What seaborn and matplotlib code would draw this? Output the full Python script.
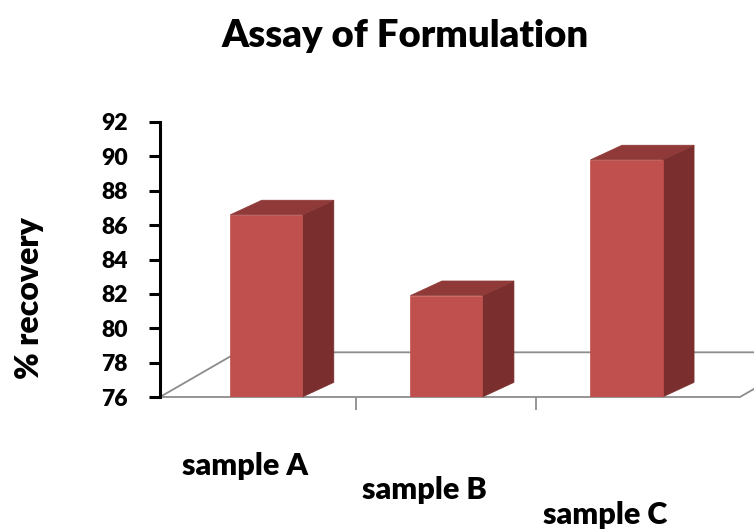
import matplotlib
matplotlib.use("Agg")
import matplotlib.pyplot as plt
from matplotlib.patches import Polygon
import matplotlib.transforms as mtransforms
import seaborn as sns
import pandas as pd

# ---- data ----
categories = ["sample A", "sample B", "sample C"]
recovery = [86.6, 81.9, 89.8]
yticks = [76, 78, 80, 82, 84, 86, 88, 90, 92]
title = "Assay of Formulation"
ylabel = "% recovery"

FRONT = "#C0504D"
TOP = "#8F3A38"
SIDE = "#7A2F2E"
FLOOR = "#8C8C8C"
WEIGHT = "heavy"

sns.set_theme(style="white")
plt.rcParams["font.family"] = ["Lato", "DejaVu Sans"]
plt.rcParams["font.weight"] = WEIGHT
plt.rcParams["text.color"] = "black"
plt.rcParams["ytick.labelcolor"] = "black"

fig = plt.figure(figsize=(7.54, 5.29), dpi=100)
W, H = 754, 529
ax = fig.add_axes([160 / W, (H - 397) / H, 580 / W, 275 / H])

df = pd.DataFrame({"sample": categories, "recovery": recovery})
sns.barplot(data=df, x="sample", y="recovery", color=FRONT, saturation=1,
            width=0.4, ax=ax, zorder=3)

ax.set_ylim(yticks[0], yticks[-1])
ax.set_xlim(-0.59, 2.63)
ybot = ax.get_ylim()[0]

# pseudo-3D depth (data units)
dx, dy = 0.175, 0.85
fdx, fdy = 0.43, 2.6

# floor
x0f, x1f = ax.get_xlim()
floor = [(x0f, ybot), (x1f, ybot), (x1f + fdx, ybot + fdy), (x0f + fdx, ybot + fdy)]
ax.add_patch(Polygon(floor, closed=True, fill=False, edgecolor=FLOOR,
                     linewidth=1.3, clip_on=False, zorder=1))

for p in list(ax.patches):
    if isinstance(p, Polygon):
        continue
    x0 = p.get_x()
    w = p.get_width()
    h = p.get_height()
    p.set_edgecolor(FRONT)
    p.set_linewidth(0.5)
    side = [(x0 + w, ybot), (x0 + w + dx, ybot + dy), (x0 + w + dx, h + dy), (x0 + w, h)]
    top = [(x0, h), (x0 + dx, h + dy), (x0 + w + dx, h + dy), (x0 + w, h)]
    ax.add_patch(Polygon(side, closed=True, facecolor=SIDE, edgecolor=SIDE,
                         linewidth=0.5, clip_on=False, zorder=2.5))
    ax.add_patch(Polygon(top, closed=True, facecolor=TOP, edgecolor=TOP,
                         linewidth=0.5, clip_on=False, zorder=3.5))

# axes styling
for s in ["top", "right", "bottom"]:
    ax.spines[s].set_visible(False)
ax.spines["left"].set_color("black")
ax.spines["left"].set_linewidth(2.2)
ax.spines["left"].set_zorder(5)
ax.set_yticks(yticks)
ax.set_yticklabels([str(t) for t in yticks], fontsize=16.5, fontweight=WEIGHT,
                   color="black")
ax.tick_params(axis="y", left=True, direction="out", length=8, width=2.2,
               color="black", pad=15)
ax.set_xticks([0.5, 1.5])
ax.tick_params(axis="x", bottom=True, direction="out", length=9, width=1.3,
               color=FLOOR, labelbottom=False)
ax.set_xlabel("")
ax.set_ylabel("")
ax.grid(False)

# staggered category labels
trans = mtransforms.blended_transform_factory(ax.transData, ax.transAxes)
label_y = [-0.25, -0.34, -0.43]
for i, (c, ly) in enumerate(zip(categories, label_y)):
    ax.text(i - 0.12, ly, c, transform=trans, ha="center", va="center",
            fontsize=22, fontweight=WEIGHT, color="black")

fig.text(405 / W, 1 - 36 / H, title, ha="center", va="center",
         fontsize=27.5, fontweight=WEIGHT, color="black")
fig.text(30 / W, 1 - 298 / H, ylabel, rotation=90, ha="center", va="center",
         fontsize=23, fontweight=WEIGHT, color="black")

fig.savefig("out.png", dpi=100)
